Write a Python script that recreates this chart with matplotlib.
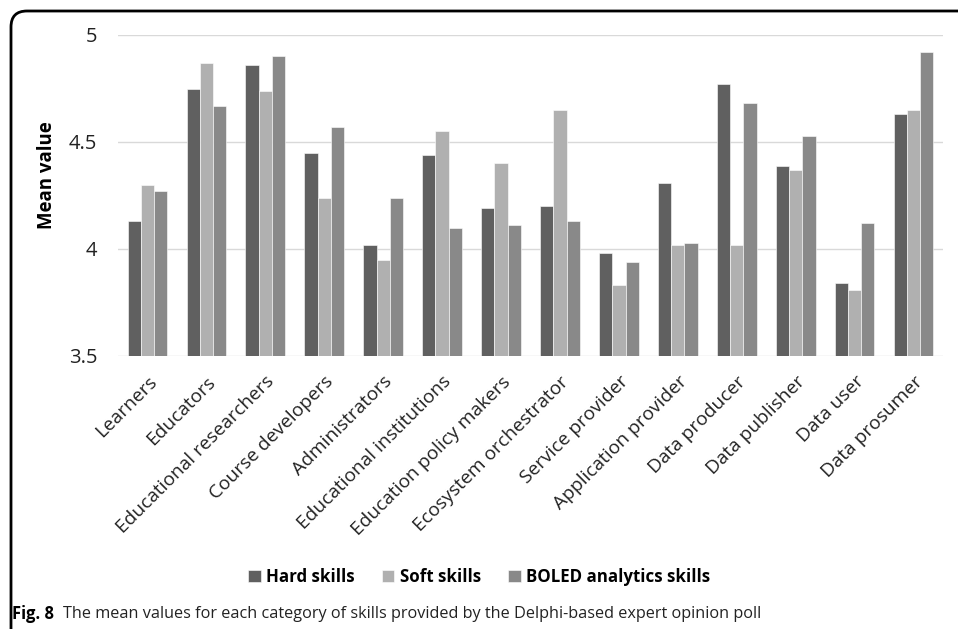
import numpy as np
import matplotlib
matplotlib.use("Agg")
import matplotlib.pyplot as plt
import matplotlib.transforms as mtransforms
from matplotlib.patches import FancyBboxPatch

plt.rcParams['font.family'] = ['Open Sans', 'DejaVu Sans']

categories = ["Learners", "Educators", "Educational researchers", "Course developers",
              "Administrators", "Educational institutions", "Education policy makers",
              "Ecosystem orchestrator", "Service provider", "Application provider",
              "Data producer", "Data publisher", "Data user", "Data prosumer"]
hard = [4.13, 4.75, 4.86, 4.45, 4.02, 4.44, 4.19, 4.20, 3.98, 4.31, 4.77, 4.39, 3.84, 4.63]
soft = [4.30, 4.87, 4.74, 4.24, 3.95, 4.55, 4.40, 4.65, 3.83, 4.02, 4.02, 4.37, 3.81, 4.65]
boled = [4.27, 4.67, 4.90, 4.57, 4.24, 4.10, 4.11, 4.13, 3.94, 4.03, 4.68, 4.53, 4.12, 4.92]
series_names = ["Hard skills", "Soft skills", "BOLED analytics skills"]
colors = ["#606060", "#b0b0b0", "#898989"]

W, H = 958, 629
fig = plt.figure(figsize=(W / 100, H / 100), dpi=100)

# rounded frame, open past the right and bottom edges (pixel coords)
frame = FancyBboxPatch((11, -40), W + 40, H - 11 + 40,
                       boxstyle="round,pad=0,rounding_size=16",
                       transform=None, fill=False, lw=2, ec="black")
fig.patches.append(frame)

ax = fig.add_axes([118 / W, 1 - 356 / H, (943 - 118) / W, (356 - 35) / H])
x = np.arange(len(categories))
w = 0.225
for i, (vals, name, c) in enumerate(zip([hard, soft, boled], series_names, colors)):
    ax.bar(x + (i - 1) * w, vals, w, color=c, label=name, edgecolor="white", linewidth=0.4,
           zorder=3)

ax.set_ylim(3.5, 5)
ax.set_yticks([3.5, 4, 4.5, 5])
ax.set_yticklabels(["3.5", "4", "4.5", "5"], fontsize=14.5, color="#222222")
ax.set_xlim(-0.5, len(categories) - 0.5)
ax.set_xticks(x)
ax.set_xticklabels(categories, rotation=45, ha="right", rotation_mode="anchor", fontsize=13.8,
                   color="#222222")
shift = mtransforms.ScaledTranslation(-5 / 100, 0, fig.dpi_scale_trans)
for lbl in ax.get_xticklabels():
    lbl.set_transform(lbl.get_transform() + shift)
ax.tick_params(length=0)
ax.tick_params(axis="y", pad=15)
ax.tick_params(axis="x", pad=12)
ax.grid(axis="y", color="#d9d9d9", lw=1, zorder=0)
for s in ax.spines.values():
    s.set_visible(False)
ax.set_ylabel("Mean value", fontsize=13.4, fontweight="bold")
ax.yaxis.set_label_coords(-0.074, 0.564)

fig.legend(loc="center", bbox_to_anchor=(479 / W, 1 - 577 / H), ncol=3, frameon=False,
           handlelength=0.75, handleheight=0.75, handletextpad=0.3, columnspacing=1.6,
           prop={"weight": "bold", "size": 12.2})

fig.text(12 / W, 1 - 614 / H, "Fig. 8", fontsize=11.9, fontweight="bold", va="center")
fig.text(63 / W, 1 - 614 / H,
         "The mean values for each category of skills provided by the Delphi-based expert opinion poll",
         fontsize=11.7, va="center", color="#222222")

fig.savefig("out.png", dpi=100)
